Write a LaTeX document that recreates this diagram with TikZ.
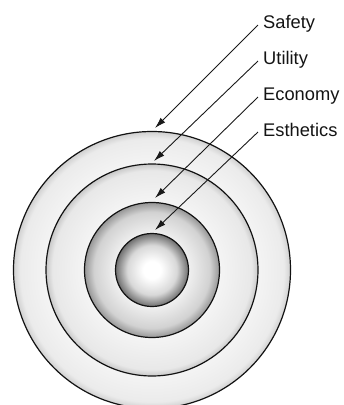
\documentclass[tikz,border=0pt]{standalone}
\usepackage{fontspec}
\setmainfont{Liberation Sans}
\usetikzlibrary{arrows.meta}
\definecolor{edgecol}{HTML}{121212}
\definecolor{aA}{HTML}{F4F4F4}\definecolor{aB}{HTML}{EBEBEB}\definecolor{aC}{HTML}{D0D0D0}
\definecolor{bA}{HTML}{F5F5F5}\definecolor{bB}{HTML}{E8E8E8}\definecolor{bC}{HTML}{C8C8C8}
\definecolor{cA}{HTML}{F0F0F0}\definecolor{cB}{HTML}{D2D2D2}\definecolor{cC}{HTML}{969696}
\definecolor{dA}{HTML}{FFFFFF}\definecolor{dB}{HTML}{D8D8D8}\definecolor{dC}{HTML}{6E6E6E}
\pgfdeclareradialshading{shA}{\pgfpoint{0bp}{0bp}}{color(0bp)=(white); color(19bp)=(aA); color(23.8bp)=(aB); color(25bp)=(aC); color(50bp)=(aC)}
\pgfdeclareradialshading{shB}{\pgfpoint{0bp}{0bp}}{color(0bp)=(white); color(15.5bp)=(bA); color(23.5bp)=(bB); color(25bp)=(bC); color(50bp)=(bC)}
\pgfdeclareradialshading{shC}{\pgfpoint{0bp}{0bp}}{color(0bp)=(white); color(13.5bp)=(cA); color(21.5bp)=(cB); color(25bp)=(cC); color(50bp)=(cC)}
\pgfdeclareradialshading{shD}{\pgfpoint{0bp}{0bp}}{color(0bp)=(dA); color(6bp)=(dA); color(17bp)=(dB); color(25bp)=(dC); color(50bp)=(dC)}
\tikzset{
  disc/.style={circle, inner sep=0pt, draw=edgecol, line width=1.2pt},
  lab/.style={inner sep=0pt, anchor=base west, font=\fontsize{18.3}{20}\selectfont, text=black!92},
  arr/.style={line width=0.9pt, draw=black!90, -{Latex[length=11pt,width=6.5pt]}}
}
\begin{document}
\begin{tikzpicture}[x=1pt,y=-1pt]
\useasboundingbox (0,0) rectangle (344,405);
\begin{scope}
\clip (0,0) rectangle (344,405);
\node[disc, minimum size=277pt, shading=shA] (ring1) at (152,270) {};
\node[disc, minimum size=212pt, shading=shB] (ring2) at (152,270) {};
\node[disc, minimum size=135pt, shading=shC] (ring3) at (152,270) {};
\node[disc, minimum size=73pt, shading=shD] (core) at (152,270) {};
\end{scope}
\node[lab] (safety) at (263,28) {Safety};
\node[lab] (utility) at (263,64) {Utility};
\node[lab] (economy) at (263,100) {Economy};
\node[lab] (esthetics) at (263,136) {Esthetics};
\coordinate (tipA) at (155,128);
\coordinate (tipB) at (154,161);
\coordinate (tipC) at (155,198);
\coordinate (tipD) at (155,230);
\draw[arr] ([xshift=-5pt,yshift=3pt]safety.base west) -- (tipA);
\draw[arr] ([xshift=-5pt,yshift=3pt]utility.base west) -- (tipB);
\draw[arr] ([xshift=-5pt,yshift=3pt]economy.base west) -- (tipC);
\draw[arr] ([xshift=-5pt,yshift=4pt]esthetics.base west) -- (tipD);
\end{tikzpicture}
\end{document}
